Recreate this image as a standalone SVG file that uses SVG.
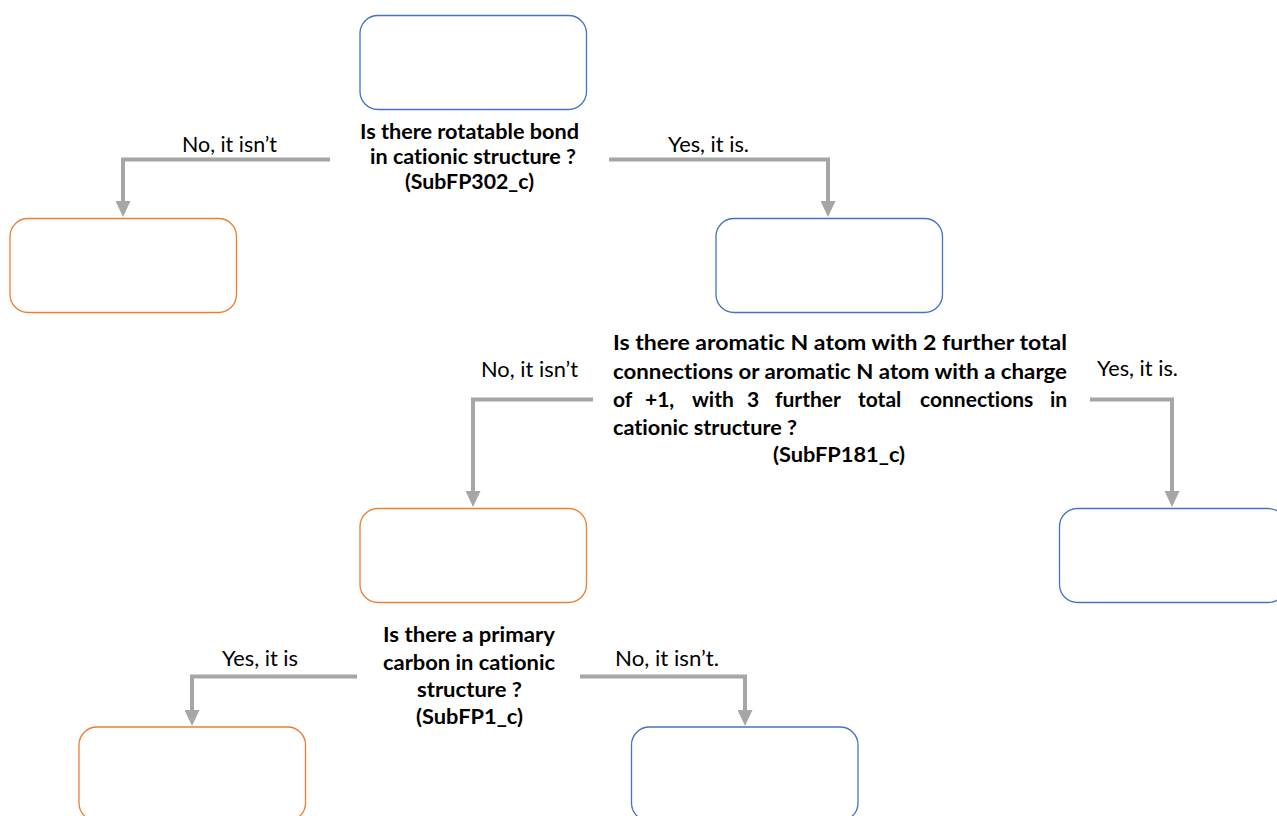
<svg xmlns="http://www.w3.org/2000/svg" width="1277" height="816" viewBox="0 0 1277 816">
  <style>
    .box { fill: #ffffff; stroke-width: 1.3; }
    .blue { stroke: #4472c4; }
    .orange { stroke: #ed7d31; }
    .conn { fill: none; stroke: #a6a6a6; stroke-width: 4; marker-end: url(#arrow); }
    .q { font-family: Lato, "Liberation Sans", sans-serif; font-weight: bold; font-size: 21px; fill: #000000; font-variant-ligatures: none; }
    .lbl { font-family: Lato, "Liberation Sans", sans-serif; font-size: 21px; fill: #000000; font-variant-ligatures: none; }
  </style>
  <defs>
    <marker id="arrow" viewBox="0 0 16 15" refX="6" refY="7.5" markerWidth="16" markerHeight="15" markerUnits="userSpaceOnUse" orient="auto">
      <path d="M0,0 L16,7.5 L0,15 z" fill="#a6a6a6"/>
    </marker>
  </defs>
  <rect width="1277" height="816" fill="#ffffff"/>

  <g id="connectors">
    <path class="conn" d="M330,159.5 H123 V207"/>
    <path class="conn" d="M609,159.5 H828 V207"/>
    <path class="conn" d="M593,399.5 H473 V497"/>
    <path class="conn" d="M1090,399.5 H1172 V497"/>
    <path class="conn" d="M357,676.5 H192 V716"/>
    <path class="conn" d="M580,676.5 H745 V716"/>
  </g>

  <g id="edge-labels">
    <text class="lbl" x="182" y="152" textLength="95" lengthAdjust="spacingAndGlyphs">No, it isn’t</text>
    <text class="lbl" x="668" y="152" textLength="81" lengthAdjust="spacingAndGlyphs">Yes, it is.</text>
    <text class="lbl" x="481" y="377" textLength="97" lengthAdjust="spacingAndGlyphs">No, it isn’t</text>
    <text class="lbl" x="1097" y="376" textLength="81" lengthAdjust="spacingAndGlyphs">Yes, it is.</text>
    <text class="lbl" x="222" y="666" textLength="76" lengthAdjust="spacingAndGlyphs">Yes, it is</text>
    <text class="lbl" x="615" y="666" textLength="104" lengthAdjust="spacingAndGlyphs">No, it isn’t.</text>
  </g>

  <g id="node-root">
    <rect class="box blue" x="360" y="15.5" width="226.5" height="94" rx="18"/>
    <text class="q" x="360" y="139" textLength="219" lengthAdjust="spacingAndGlyphs">Is there rotatable bond</text>
    <text class="q" x="370" y="164" textLength="206" lengthAdjust="spacingAndGlyphs">in cationic structure ?</text>
    <text class="q" x="405" y="189" textLength="129" lengthAdjust="spacingAndGlyphs">(SubFP302_c)</text>
  </g>

  <g id="node-left1">
    <rect class="box orange" x="10" y="218.5" width="226.5" height="94" rx="18"/>
  </g>

  <g id="node-right1">
    <rect class="box blue" x="716" y="218.5" width="226.5" height="94" rx="18"/>
    <text class="q" x="613" y="350" textLength="454" lengthAdjust="spacingAndGlyphs">Is there aromatic N atom with 2 further total</text>
    <text class="q" x="613" y="379" textLength="454" lengthAdjust="spacingAndGlyphs">connections or aromatic N atom with a charge</text>
    <text class="q" y="407"><tspan x="613">of</tspan><tspan x="645">+1,</tspan><tspan x="692">with</tspan><tspan x="747">3</tspan><tspan x="775">further</tspan><tspan x="858">total</tspan><tspan x="920">connections</tspan><tspan x="1050">in</tspan></text>
    <text class="q" x="613" y="435" textLength="184" lengthAdjust="spacingAndGlyphs">cationic structure ?</text>
    <text class="q" x="773" y="462" textLength="132" lengthAdjust="spacingAndGlyphs">(SubFP181_c)</text>
  </g>

  <g id="node-mid">
    <rect class="box orange" x="360" y="508.5" width="226.5" height="94" rx="18"/>
    <text class="q" x="383" y="642" textLength="172" lengthAdjust="spacingAndGlyphs">Is there a primary</text>
    <text class="q" x="383" y="670" textLength="172" lengthAdjust="spacingAndGlyphs">carbon in cationic</text>
    <text class="q" x="417" y="697" textLength="105" lengthAdjust="spacingAndGlyphs">structure ?</text>
    <text class="q" x="416" y="724" textLength="107" lengthAdjust="spacingAndGlyphs">(SubFP1_c)</text>
  </g>

  <g id="node-right2">
    <rect class="box blue" x="1059.5" y="508.5" width="226.5" height="94" rx="18"/>
  </g>

  <g id="node-bottom-left">
    <rect class="box orange" x="79" y="727" width="226.5" height="94" rx="18"/>
  </g>

  <g id="node-bottom-right">
    <rect class="box blue" x="631.5" y="727" width="226.5" height="94" rx="18"/>
  </g>
</svg>
